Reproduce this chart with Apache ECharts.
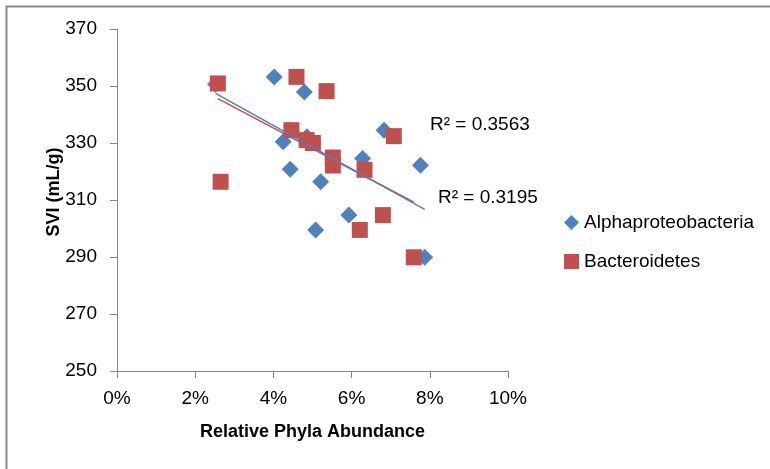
<!DOCTYPE html>
<html>
<head>
<meta charset="utf-8">
<script src="https://cdn.jsdelivr.net/npm/echarts@6/dist/echarts.min.js"></script>
<style>
html,body{margin:0;padding:0;background:#fff;}
#chart{width:770px;height:469px;}
</style>
</head>
<body>
<div id="chart"></div>
<script>
// Relative abundance (%) and SVI (mL/g)
var alphaX = [2.52, 4.02, 4.79, 4.86, 4.25, 6.28, 4.43, 5.21, 6.83, 7.76, 5.93, 5.08, 7.87, 5.00];
var alphaY = [350.6, 353.2, 347.9, 332.2, 330.4, 324.6, 320.8, 316.4, 334.5, 322.2, 304.7, 299.5, 289.9, 330.3];
var bactX = [2.58, 4.59, 5.36, 4.46, 4.85, 5.01, 5.52, 5.52, 6.33, 7.08, 2.65, 6.21, 6.80, 7.59];
var bactY = [350.9, 353.2, 348.2, 334.5, 331.0, 330.0, 324.9, 322.1, 320.6, 332.4, 316.4, 299.5, 304.7, 289.9];
// linear trendline end points
var alphaTrendX = [2.52, 7.87];
var alphaTrendY = [347.4, 306.7];
var bactTrendX = [2.58, 7.59];
var bactTrendY = [345.6, 309.2];
var r2Labels = ['R\u00b2 = 0.3563', 'R\u00b2 = 0.3195'];
var xTicks = [0, 2, 4, 6, 8, 10];
var yTicks = [250, 270, 290, 310, 330, 350, 370];
var seriesNames = ['Alphaproteobacteria', 'Bacteroidetes'];

function zip(a, b) { return a.map(function (v, i) { return [v, b[i]]; }); }

var FONT = 'Liberation Sans';
var BLUE = '#4F81BD', RED = '#C0504D', AXIS = '#868686';

var chart = echarts.init(document.getElementById('chart'), null, {renderer: 'canvas'});
chart.setOption({
  animation: false,
  backgroundColor: '#fff',
  textStyle: {fontFamily: FONT},
  grid: {left: 117, right: 262, top: 29, bottom: 98, containLabel: false},
  xAxis: {
    type: 'value', min: xTicks[0], max: xTicks[xTicks.length - 1], interval: 2,
    name: 'Relative Phyla Abundance', nameLocation: 'middle', nameGap: 52,
    nameTextStyle: {fontFamily: FONT, fontSize: 18, fontWeight: 'bold', color: '#000'},
    axisLine: {show: true, onZero: false, lineStyle: {color: AXIS, width: 1}},
    axisTick: {show: true, length: 7, lineStyle: {color: AXIS}},
    axisLabel: {fontFamily: FONT, fontSize: 19, color: '#000', margin: 18, formatter: '{value}%'},
    splitLine: {show: false}
  },
  yAxis: {
    type: 'value', min: yTicks[0], max: yTicks[yTicks.length - 1], interval: 20,
    axisLine: {show: true, onZero: false, lineStyle: {color: AXIS, width: 1}},
    axisTick: {show: true, length: 7, lineStyle: {color: AXIS}},
    axisLabel: {fontFamily: FONT, fontSize: 19, color: '#000', margin: 20},
    splitLine: {show: false}
  },
  legend: {
    orient: 'vertical', left: 559, top: 208, itemWidth: 15, itemHeight: 15, itemGap: 20,
    textStyle: {fontFamily: FONT, fontSize: 19, color: '#000'},
    data: [{name: seriesNames[0], icon: 'diamond'}, {name: seriesNames[1], icon: 'rect'}]
  },
  graphic: [
    {type: 'rect', left: 4, top: 4, shape: {width: 800, height: 500},
     style: {fill: 'none', stroke: '#898989', lineWidth: 2}, silent: true},
    {type: 'text', x: 54, y: 192, rotation: Math.PI / 2,
     style: {text: 'SVI (mL/g)', fontFamily: FONT, fontSize: 18, fontWeight: 'bold', fill: '#000',
       align: 'center', verticalAlign: 'middle'}},
    {type: 'text', left: 430, top: 115, style: {text: r2Labels[0], fontFamily: FONT, fontSize: 19, fill: '#000'}},
    {type: 'text', left: 438, top: 188, style: {text: r2Labels[1], fontFamily: FONT, fontSize: 19, fill: '#000'}}
  ],
  series: [
    {name: seriesNames[0], type: 'scatter', symbol: 'diamond', symbolSize: 17,
     itemStyle: {color: BLUE, opacity: 1}, data: zip(alphaX, alphaY), z: 3},
    {name: seriesNames[1], type: 'scatter', symbol: 'rect', symbolSize: 16,
     itemStyle: {color: RED, opacity: 1}, data: zip(bactX, bactY), z: 3},
    {name: 'bactTrend', type: 'line', showSymbol: false, symbol: 'none',
     lineStyle: {color: RED, width: 1.5}, data: zip(bactTrendX, bactTrendY), z: 4},
    {name: 'alphaTrend', type: 'line', showSymbol: false, symbol: 'none',
     lineStyle: {color: BLUE, width: 1.5}, data: zip(alphaTrendX, alphaTrendY), z: 4}
  ]
});
</script>
</body>
</html>
